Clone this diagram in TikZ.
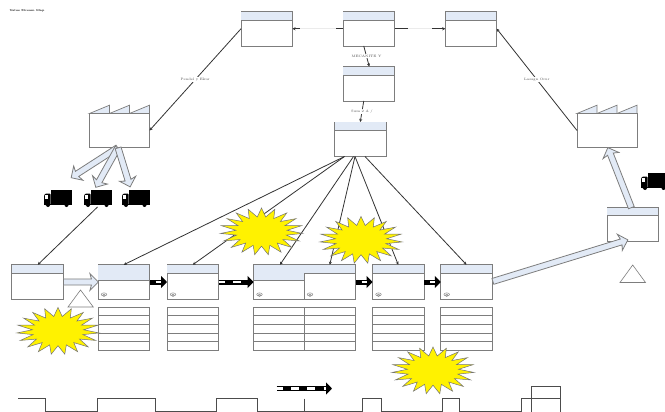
\documentclass[tikz,border=0pt]{standalone}
\usepackage{amsmath,amssymb}
\usepackage{tikz}
\usetikzlibrary{arrows.meta,calc,shapes.geometric,shapes.arrows}

\definecolor{hdrblue}{RGB}{226,234,246}
\definecolor{boxgray}{RGB}{125,125,125}

\tikzset{
  procbox/.style={draw=boxgray, line width=0.9pt, fill=white, rectangle, minimum width=51.5pt, minimum height=34.5pt, inner sep=0pt, outer sep=0pt},
  tablebox/.style={draw=boxgray, line width=0.9pt, fill=white},
  factorybox/.style={draw=boxgray, line width=0.8pt, fill=white, rectangle, minimum width=60pt, minimum height=34pt, inner sep=0pt, outer sep=0pt},
  infoline/.style={draw=black!80, line width=0.8pt, -{Stealth[length=3pt,width=3pt]}},
  infolabel/.style={fill=white, inner sep=0.6pt, text=black!70, font=\fontsize{3.4}{4}\selectfont},
  burst/.style={star, star points=19, star point ratio=1.6, draw=black!55, line width=0.5pt, fill=yellow, minimum size=47pt, inner sep=0pt, xscale=1.75, transform shape},
  fatarrow/.style={single arrow, draw=boxgray, line width=0.8pt, fill=hdrblue, minimum width=17pt, single arrow head extend=5pt, single arrow head indent=1.5pt, inner sep=2.4pt},
  pusharrow/.style={line width=5pt, -{Triangle[length=6pt,width=12pt]}, postaction={draw=white, line width=2.4pt, -, shorten >=6pt, dash pattern=on 8pt off 8.3pt, dash phase=1.7pt}},
  pushshort/.style={line width=5pt, -{Triangle[length=6pt,width=12pt]}, postaction={draw=white, line width=2.4pt, -, shorten >=6pt, shorten <=6pt}},
  triangbox/.style={draw=boxgray, line width=0.6pt, fill=white},
  timeline/.style={draw=black!70, line width=0.7pt},
}

% Box with a blue header strip: name, centre x, centre y, header height
\newcommand{\procnode}[4]{
  \node[procbox] (#1) at (#2,#3) {};
  \fill[hdrblue] ([xshift=0.45pt,yshift=-0.45pt]#1.north west) rectangle ([xshift=-0.45pt,yshift=-#4pt]#1.north east);
  \draw[boxgray, line width=0.8pt] ([yshift=-#4pt]#1.north west) -- ([yshift=-#4pt]#1.north east);
}
% Factory with three roof teeth
\newcommand{\factorynode}[3]{
  \node[factorybox] (#1) at (#2,#3) {};
  \foreach \k in {0,20,40} {
    \draw[boxgray, line width=0.7pt, fill=hdrblue] ($(#1.north west)+(\k pt,0)$) -- ++(20pt,8.3pt) -- ++(0,-8.3pt) -- cycle;
  }
}
% Truck, left edge x and top y
\newcommand{\trucknode}[3]{
  \begin{scope}[shift={(#2,#3)}]
    \fill (7,0) rectangle (27.5,14.5);
    \fill[rounded corners=0.8pt] (0,15) -- (0,5.5) -- (1.5,3.5) -- (6.5,3.5) -- (6.5,15) -- cycle;
    \fill[white] (1.2,5) rectangle (4,8.5);
    \fill (0,14) rectangle (27.5,15);
    \fill (4,15) circle (2pt) (22.5,15) circle (2pt);
  \end{scope}
  \coordinate (#1) at (#2+13.5,#3+17);
}
% Block arrow between two named points
\newcommand{\blockarrow}[2]{
  \path let \p1=($(#2)-(#1)$), \n1={atan2(\y1,\x1)}, \n2={veclen(\x1,\y1)} in
    node[fatarrow, rotate=\n1, minimum height=\n2, anchor=tail] at (#1) {};
}
% Operator mark inside a box
\newcommand{\opmark}[1]{
  \draw[black!45, line width=0.5pt, fill=white] ($(#1.south west)+(6,-4.8)$) ellipse (2.8pt and 1.6pt);
  \draw[black!45, line width=0.5pt] ($(#1.south west)+(6,-4)$) circle (1.3pt);
}
% Data table under a box
\newcommand{\datatable}[1]{
  \draw[tablebox] ($(#1.south west)+(0,8)$) rectangle ($(#1.south east)+(0,51)$);
  \foreach \h in {16.6,25.3,33.9,41.9} {
    \draw[boxgray, line width=0.8pt] ($(#1.south west)+(0,\h)$) -- ($(#1.south east)+(0,\h)$);
  }
}

\begin{document}
\begin{tikzpicture}[x=1pt, y=-1pt, line cap=butt, line join=miter]
  \clip (0,0) rectangle (665,412);
  \fill[white] (0,0) rectangle (665,412);

  % Title smudge, top left
  \node[inner sep=0pt, font=\fontsize{2.8}{4}\selectfont\bfseries] (title) at (27,11) {Value Stream Map};

  % Top row
  \procnode{planA}{266.75}{28.75}{8.5}
  \procnode{planB}{368.75}{28.75}{8.5}
  \procnode{planC}{471}{28.75}{8.5}
  \procnode{planD}{368.75}{83.75}{8.5}
  \procnode{control}{360.25}{139.25}{8.5}

  % Factories
  \factorynode{custF}{119.5}{130.5}
  \factorynode{suppF}{607}{130.5}

  % Process row
  \procnode{procA}{37.25}{282}{8.5}
  \procnode{procB}{123.75}{282}{15.5}
  \procnode{procC}{192.75}{282}{8.5}
  \procnode{procD}{279.25}{282}{15.5}
  \procnode{procE}{329.75}{282}{8.5}
  \procnode{procF}{398.25}{282}{8.5}
  \procnode{procG}{466.5}{282}{8.5}
  \procnode{store}{632.75}{224.5}{8.5}

  % Operator marks and data tables
  \foreach \nm in {procB,procC,procD,procE,procF,procG} {
    \opmark{\nm}
    \datatable{\nm}
  }

  % Trucks
  \trucknode{truckA}{44}{190}
  \trucknode{truckB}{84}{190}
  \trucknode{truckC}{122}{190}
  \trucknode{truckD}{641}{173}

  % Inventory triangles
  \draw[triangbox] (80.5,290) -- (93.3,307) -- (68,307) -- cycle;
  \draw[triangbox] (632.7,265) -- (645.5,282.5) -- (620,282.5) -- cycle;

  % Fan out of control box
  \coordinate (fanA) at (344.5,156.5);
  \coordinate (fanB) at (353.5,156.5);
  \coordinate (fanC) at (355,156.5);
  \coordinate (fanD) at (365,156.5);
  \draw[infoline] (fanA) -- (procB.north);
  \draw[infoline] (fanA) -- (procC.north);
  \draw[infoline] (fanB) -- ([xshift=0.7pt]procD.north);
  \draw[infoline] (fanC) -- (procE.north);
  \draw[infoline] (fanC) -- (procF.north);
  \draw[infoline] (fanD) -- (procG.north);
  \draw[infoline] (truckB) -- ([xshift=0.5pt]procA.north);

  % Top connectors
  \coordinate (stubA) at (336,28.75);
  \coordinate (stubB) at (299.5,28.75);
  \coordinate (stubC) at (408,28.75);
  \coordinate (stubD) at (432,28.75);
  \draw[black!8, line width=0.5pt] (stubB) -- (stubA) (stubC) -- (stubD);
  \draw[black!80, line width=0.9pt] (planB.west) -- (stubA);
  \draw[infoline] (stubB) -- (planA.east);
  \draw[black!80, line width=0.9pt] (planB.east) -- (stubC);
  \draw[infoline] (stubD) -- (planC.west);
  \draw[infoline] (planA.west) -- node[infolabel] (lblA) {Pendel y Ekur} (custF.east);
  \draw[infoline] (suppF.west) -- node[infolabel] (lblB) {Lasagn Orur} (planC.east);
  \draw[infoline] ([xshift=-5pt]planB.south) -- node[infolabel] (lblC) {MECANITE Y} ([xshift=0.5pt]planD.north);
  \draw[infoline] ([xshift=-5pt]planD.south) -- node[infolabel] (lblD) {Sum 2 A /} (control.north);

  % Block arrows
  \coordinate (fatA) at (118,147.5);
  \coordinate (fatAend) at (71.5,177.5);
  \coordinate (fatBend) at (96,187);
  \coordinate (fatCend) at (130,186.5);
  \coordinate (fatD) at (631.5,208);
  \coordinate (fatDend) at (608,148);
  \coordinate (fatE) at (492.5,281.5);
  \coordinate (fatEend) at (627.5,240);
  \blockarrow{fatA}{fatAend}
  \blockarrow{fatA}{fatBend}
  \blockarrow{fatA}{fatCend}
  \blockarrow{fatD}{fatDend}
  \blockarrow{fatE}{fatEend}
  \blockarrow{procA.east}{procB.west}

  % Push arrows
  \draw[pushshort] (procB.east) -- (procC.west);
  \draw[pusharrow] (procC.east) -- (procD.west);
  \draw[pushshort] (procE.east) -- (procF.west);
  \draw[pushshort] (procF.east) -- (procG.west);
  \coordinate (pushA) at (276.5,388.5);
  \coordinate (pushB) at (332,388.5);
  \draw[pusharrow] (pushA) -- (pushB);

  % Bursts
  \node[burst] (burstA) at (261.5,231.5) {};
  \node[burst] (burstB) at (361,240) {};
  \node[burst] (burstC) at (58,331) {};
  \node[burst] (burstD) at (433,370.5) {};

  % Timeline
  \draw[timeline] (18,398.5) -- (45.7,398.5) -- (45.7,411.3) -- (97.7,411.3) -- (97.7,398.5) -- (155.7,398.5)
    -- (155.7,411.3) -- (216.3,411.3) -- (216.3,398.5) -- (257.3,398.5) -- (257.3,411.3) -- (362.3,411.3)
    -- (362.3,398.5) -- (381,398.5) -- (381,411.3) -- (442.7,411.3) -- (442.7,398.5) -- (459.7,398.5)
    -- (459.7,411.3) -- (521.7,411.3) -- (521.7,398.5) -- (560.7,398.5);
  \draw[timeline] (304,398.5) -- (304,411.3);
  \draw[timeline] (531,412) -- (531,386.3) -- (560.7,386.3) -- (560.7,412);
\end{tikzpicture}
\end{document}
